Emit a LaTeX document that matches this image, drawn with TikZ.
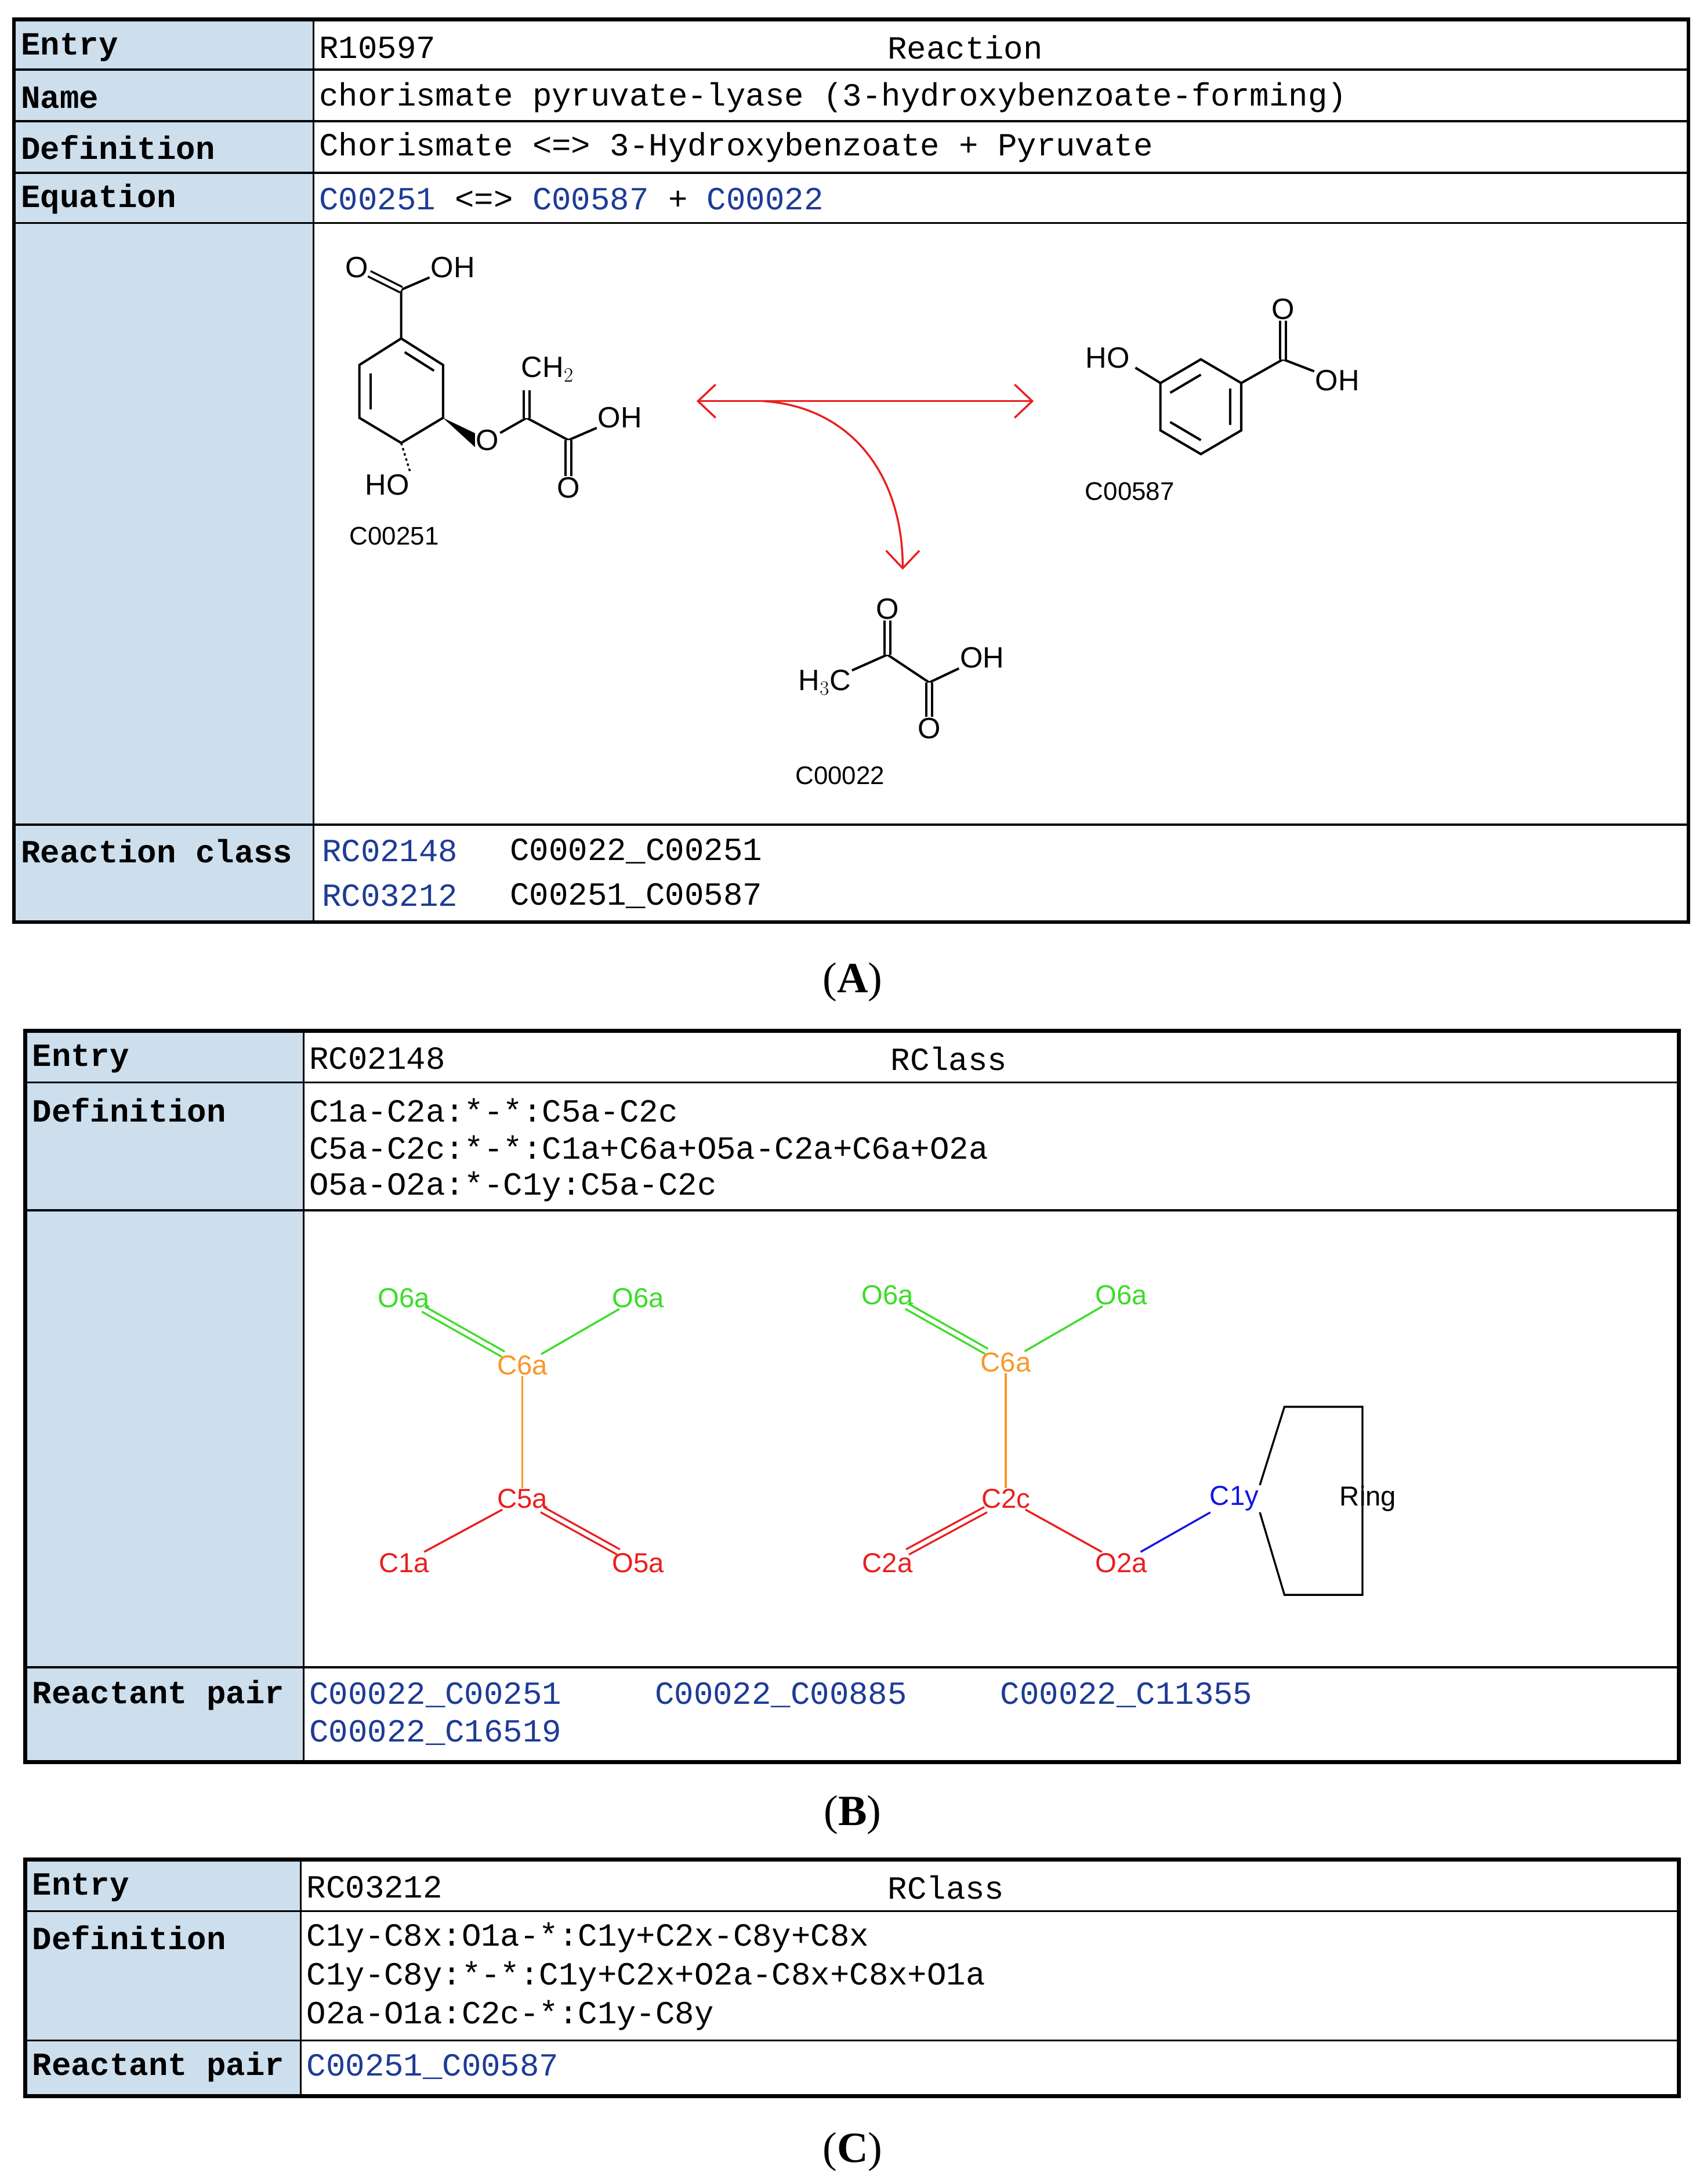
\documentclass[tikz,border=0pt]{standalone}
\usepackage{fontspec}
\setmainfont{Liberation Serif}
\setsansfont{Liberation Sans}
\newfontfamily\mono{Liberation Mono}
\usetikzlibrary{arrows.meta,calc}
\definecolor{hdr}{RGB}{205,222,237}
\definecolor{lnk}{RGB}{30,60,150}
\definecolor{gC}{RGB}{60,220,40}
\definecolor{oC}{RGB}{250,150,40}
\definecolor{rC}{RGB}{235,30,30}
\definecolor{bC}{RGB}{20,20,230}
\begin{document}
\begin{tikzpicture}[x=0.05cm,y=-0.05cm,
 lab/.style={anchor=west,inner sep=0,font=\mono\bfseries\fontsize{33}{36}\selectfont},
 val/.style={anchor=west,inner sep=0,font=\mono\fontsize{33}{36}\selectfont},
 lk/.style={val,text=lnk},
 frame/.style={line width=4pt},
 rowl/.style={line width=2pt},
 atom/.style={inner sep=1pt,font=\sffamily\fontsize{30}{32}\selectfont},
 cid/.style={inner sep=0,font=\sffamily\fontsize{26}{28}\selectfont},
 bond/.style={line width=2.4pt},
 dbl/.style={line width=2pt,double=white,double distance=4pt},
 gl/.style={inner sep=1pt,font=\sffamily\fontsize{28}{30}\selectfont},
 captxt/.style={font=\fontsize{44}{48}\selectfont},
 rarrow/.style={draw=rC,line width=2pt}]
\useasboundingbox (0,0) rectangle (1225,1568);
\fill[white] (0,0) rectangle (1225,1568);
% ===== Panel A =====
\fill[hdr] (10,14) rectangle (225,662);
\draw[rowl] (10,50)--(1212,50) (10,87)--(1212,87) (10,124)--(1212,124) (10,160)--(1212,160) (10,592)--(1212,592);
\draw[rowl] (225,14)--(225,662);
\draw[frame] (10,14) rectangle (1212,662);
\node[lab] (ae) at (15,34) {Entry};
\node[lab] (an) at (15,70) {Name};
\node[lab] (ad) at (15,106) {Definition};
\node[lab] (aq) at (15,143) {Equation};
\node[lab] (ac) at (15,611) {Reaction class};
\node[val] (aev) at (229,34) {R10597};
\node[val] (aet) at (695,34) {\hspace{-2.5em}Reaction};
\node[val] (anv) at (229,70) {chorismate pyruvate-lyase (3-hydroxybenzoate-forming)};
\node[val] (adv) at (229,106) {Chorismate <=> 3-Hydroxybenzoate + Pyruvate};
\node[val] (aqv) at (229,143) {\textcolor{lnk}{C00251} <=> \textcolor{lnk}{C00587} + \textcolor{lnk}{C00022}};
\node[lk] (rc1) at (231,611) {RC02148};
\node[val] (rc1v) at (366,611) {C00022\_C00251};
\node[lk] (rc2) at (231,643) {RC03212};
\node[val] (rc2v) at (366,643) {C00251\_C00587};
% chorismate
\coordinate (r1) at (288,243); \coordinate (r2) at (318,262); \coordinate (r3) at (318,300);
\coordinate (r4) at (288,318); \coordinate (r5) at (258,300); \coordinate (r6) at (258,262);
\draw[bond] (r1)--(r2)--(r3)--(r4)--(r5)--(r6)--cycle;
\draw[bond] ($(r1)!0.15!(r2)+(-2,7)$) -- ($(r1)!0.85!(r2)+(-2,7)$);
\draw[bond] (266,268)--(266,294);
\coordinate (cc) at (288,208);
\node[atom] (o1) at (256,192) {O};
\node[atom] (oh1) at (325,192) {OH};
\draw[bond] (r1)--(cc)--(oh1);
\draw[dbl] (cc)--(o1);
\node[atom] (o2) at (350,316) {O};
\fill (r3) -- ($(o2.west)+(0,-5)$) -- ($(o2.west)+(0,5)$) -- cycle;
\coordinate (c7) at (378,300);
\coordinate (c8) at (408,316);
\node[atom] (ch2) at (393,265) {CH$_2$};
\node[atom] (oh2) at (445,300) {OH};
\node[atom] (o3) at (408,350) {O};
\draw[bond] (o2)--(c7)--(c8)--(oh2);
\draw[dbl] (c7)--(378,280);
\draw[dbl] (c8)--(o3);
\node[atom] (ho1) at (278,348) {HO};
\draw[line width=2pt,dash pattern=on 2.5pt off 3pt] (r4)--(ho1.north east);
\node[cid] (c251) at (283,385) {C00251};
% arrows
\coordinate (al) at (500,288); \coordinate (ar) at (742,288);
\draw[rarrow,{Straight Barb[length=18pt,width=34pt]}-{Straight Barb[length=18pt,width=34pt]}] (al)--(ar);
\coordinate (cs) at (548,288); \coordinate (ce) at (648,409);
\draw[rarrow,-{Straight Barb[length=18pt,width=34pt]}] (cs) .. controls (610,292) and (648,340) .. (ce);
% 3-hydroxybenzoate
\coordinate (b1) at (862,258); \coordinate (b2) at (891,275); \coordinate (b3) at (891,309);
\coordinate (b4) at (862,326); \coordinate (b5) at (833,309); \coordinate (b6) at (833,275);
\draw[bond] (b1)--(b2)--(b3)--(b4)--(b5)--(b6)--cycle;
\draw[bond] (883,279)--(883,305) (840,282)--(862,269) (840,303)--(862,316);
\node[atom] (ho2) at (795,257) {HO};
\draw[bond] (b6)--(815,264);
\coordinate (bc) at (921,258);
\node[atom] (o4) at (921,222) {O};
\node[atom] (oh3) at (960,273) {OH};
\draw[bond] (b2)--(bc)--(oh3);
\draw[dbl] (bc)--(o4);
\node[cid] (c587) at (811,353) {C00587};
% pyruvate
\node[atom] (h3c) at (592,490) {H$_3$C};
\coordinate (p1) at (637,470); \coordinate (p2) at (667,490);
\node[atom] (o5) at (637,437) {O};
\node[atom] (oh4) at (705,472) {OH};
\node[atom] (o6) at (667,523) {O};
\draw[bond] (h3c)--(p1)--(p2)--(oh4);
\draw[dbl] (p1)--(o5);
\draw[dbl] (p2)--(o6);
\node[cid] (c22) at (603,557) {C00022};
\node[captxt] (capA) at (612,705) {(\textbf{A})};
% ===== Panel B =====
\fill[hdr] (18,740) rectangle (218,1265);
\draw[rowl] (18,777)--(1205,777) (18,869)--(1205,869) (18,1197)--(1205,1197);
\draw[rowl] (218,740)--(218,1265);
\draw[frame] (18,740) rectangle (1205,1265);
\node[lab] (be) at (23,760) {Entry};
\node[lab] (bd) at (23,797) {Definition};
\node[lab] (bp) at (23,1217) {Reactant pair};
\node[val] (bev) at (222,760) {RC02148};
\node[val] (bet) at (674,760) {\hspace{-1.5em}RClass};
\node[val] (bd1) at (222,797) {C1a-C2a:*-*:C5a-C2c};
\node[val] (bd2) at (222,824) {C5a-C2c:*-*:C1a+C6a+O5a-C2a+C6a+O2a};
\node[val] (bd3) at (222,852) {O5a-O2a:*-C1y:C5a-C2c};
\node[lk] (bp1) at (222,1217) {C00022\_C00251};
\node[lk] (bp2) at (470,1217) {C00022\_C00885};
\node[lk] (bp3) at (718,1217) {C00022\_C11355};
\node[lk] (bp4) at (222,1244) {C00022\_C16519};
% left graph
\node[gl,text=gC] (lo1) at (290,932) {O6a};
\node[gl,text=gC] (lo2) at (458,932) {O6a};
\node[gl,text=oC] (lc6) at (375,980) {C6a};
\node[gl,text=rC] (lc5) at (375,1076) {C5a};
\node[gl,text=rC] (lc1) at (290,1122) {C1a};
\node[gl,text=rC] (lo5) at (458,1122) {O5a};
\draw[dbl,draw=gC] (lo1)--(lc6);
\draw[line width=2pt,gC] (lo2)--(lc6);
\draw[line width=2pt,oC] (lc6)--(lc5);
\draw[line width=2pt,rC] (lc5)--(lc1);
\draw[dbl,draw=rC] (lc5)--(lo5);
% right graph
\node[gl,text=gC] (ro1) at (637,930) {O6a};
\node[gl,text=gC] (ro2) at (805,930) {O6a};
\node[gl,text=oC] (rc6) at (722,978) {C6a};
\node[gl,text=rC] (rcc) at (722,1076) {C2c};
\node[gl,text=rC] (rca) at (637,1122) {C2a};
\node[gl,text=rC] (roa) at (805,1122) {O2a};
\node[gl,text=bC] (rcy) at (886,1076) {C1y};
\node[gl] (ring) at (982,1076) {Ring};
\draw[dbl,draw=gC] (ro1)--(rc6);
\draw[line width=2pt,gC] (ro2)--(rc6);
\draw[line width=2pt,oC] (rc6)--(rcc);
\draw[dbl,draw=rC] (rcc)--(rca);
\draw[line width=2pt,rC] (rcc)--(roa);
\draw[line width=2pt,bC] (roa)--(rcy);
\coordinate (g1) at (922,1010); \coordinate (g2) at (978,1010);
\coordinate (g3) at (978,1145); \coordinate (g4) at (922,1145);
\draw[line width=2pt] (rcy.north east)--(g1)--(g2)--(g3)--(g4)--(rcy.south east);
\node[captxt] (capB) at (612,1303) {(\textbf{B})};
% ===== Panel C =====
\fill[hdr] (18,1335) rectangle (216,1505);
\draw[rowl] (18,1372)--(1205,1372) (18,1465)--(1205,1465);
\draw[rowl] (216,1335)--(216,1505);
\draw[frame] (18,1335) rectangle (1205,1505);
\node[lab] (ce1) at (23,1355) {Entry};
\node[lab] (cd) at (23,1391) {Definition};
\node[lab] (cp) at (23,1484) {Reactant pair};
\node[val] (cev) at (220,1355) {RC03212};
\node[val] (cet) at (672,1355) {\hspace{-1.5em}RClass};
\node[val] (cd1) at (220,1391) {C1y-C8x:O1a-*:C1y+C2x-C8y+C8x};
\node[val] (cd2) at (220,1419) {C1y-C8y:*-*:C1y+C2x+O2a-C8x+C8x+O1a};
\node[val] (cd3) at (220,1447) {O2a-O1a:C2c-*:C1y-C8y};
\node[lk] (cp1) at (220,1484) {C00251\_C00587};
\node[captxt] (capC) at (612,1545) {(\textbf{C})};
\end{tikzpicture}
\end{document}
